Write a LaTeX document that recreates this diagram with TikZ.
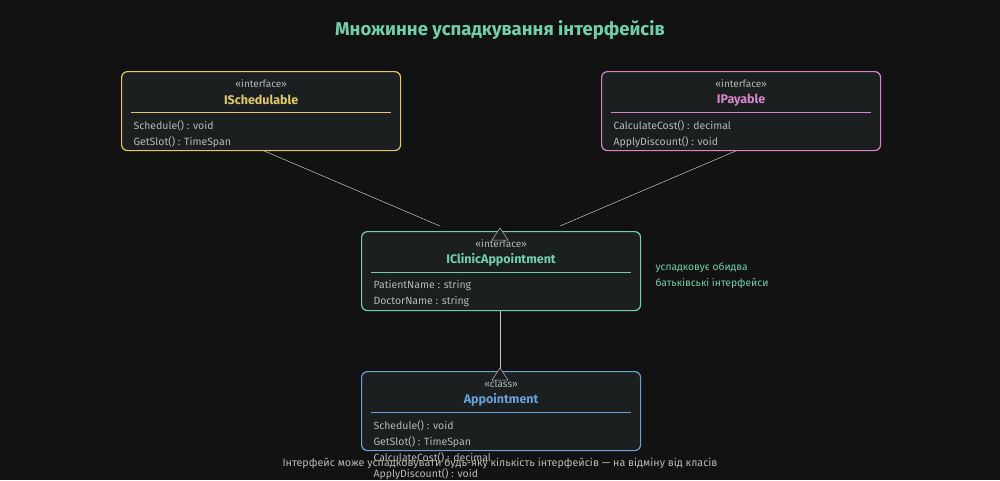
\documentclass[tikz,border=0pt]{standalone}
\usepackage{fontspec}
\setmainfont{Fira Sans}
\definecolor{bg}{HTML}{121212}
\definecolor{boxbg}{HTML}{1B1F1F}
\definecolor{ycol}{HTML}{E3C76E}
\definecolor{pcol}{HTML}{D685CC}
\definecolor{gcol}{HTML}{72CFAA}
\definecolor{bcol}{HTML}{6A9FD8}
\definecolor{txt}{HTML}{B8B8B8}
\tikzset{
  umlbox/.style={draw=#1, fill=boxbg, rounded corners=6pt, line width=1.2pt, minimum width=279pt, minimum height=79pt},
  stereo/.style={text=txt, font=\fontsize{10}{11}\selectfont},
  cname/.style={text=#1, font=\fontsize{12.5}{14}\selectfont\bfseries},
  member/.style={text=txt, font=\fontsize{10.5}{11}\selectfont, anchor=west},
  link/.style={draw=txt!80, line width=0.5pt},
  tri/.style={draw=txt, fill=boxbg, line width=0.5pt}
}
\newcommand{\umlclass}[6]{%
  \node[umlbox=#3, anchor=north west] (#1) at (#2) {};
  \node[stereo] (#1-st) at ([yshift=-13pt]#1.north) {«#4»};
  \node[cname=#3] (#1-nm) at ([yshift=-29pt]#1.north) {#5};
  \draw[#3, line width=0.8pt] ([xshift=10pt,yshift=-41pt]#1.north west) -- ([xshift=-10pt,yshift=-41pt]#1.north east);
  \foreach \m [count=\i] in {#6}
    \node[member] at ([xshift=9pt,yshift=-39pt-16pt*\i]#1.north west) {\m};
}
\begin{document}
\begin{tikzpicture}[x=1pt,y=-1pt]
  \fill[bg] (0,0) rectangle (1000,480);
  \useasboundingbox (0,0) rectangle (1000,480);
  % Title
  \node[text=gcol, font=\fontsize{18.5}{20}\selectfont\bfseries] (title) at (500,30) {Множинне успадкування інтерфейсів};

  % Connectors first (boxes drawn over them)
  \coordinate (jl) at (440,226);
  \coordinate (jr) at (560,226);
  \draw[link] (262,150) -- (jl);
  \draw[link] (738,150) -- (jr);
  \draw[link] (500,310) -- (500,371);

  % Classes
  \umlclass{sched}{121,71}{ycol}{interface}{ISchedulable}{{Schedule() : void},{GetSlot() : TimeSpan}}
  \umlclass{pay}{601,71}{pcol}{interface}{IPayable}{{CalculateCost() : decimal},{ApplyDiscount() : void}}
  \umlclass{clinic}{361,231}{gcol}{interface}{IClinicAppointment}{{PatientName : string},{DoctorName : string}}
  \umlclass{appt}{361,371}{bcol}{class}{Appointment}{{Schedule() : void},{GetSlot() : TimeSpan},{CalculateCost() : decimal},{ApplyDiscount() : void}}

  % Inheritance triangles
  \draw[tri] (500,228) -- (492,240) -- (508,240) -- cycle;
  \draw[tri] (500,368) -- (492,380) -- (508,380) -- cycle;

  % Note
  \node[text=gcol, font=\fontsize{10.3}{16}\selectfont, align=left, anchor=west] (note) at (652,276) {успадковує обидва\\батьківські інтерфейси};
  % Caption
  \node[text=txt, font=\fontsize{10.7}{11}\selectfont] (caption) at (500,463) {Інтерфейс може успадковувати будь-яку кількість інтерфейсів — на відміну від класів};
\end{tikzpicture}
\end{document}
